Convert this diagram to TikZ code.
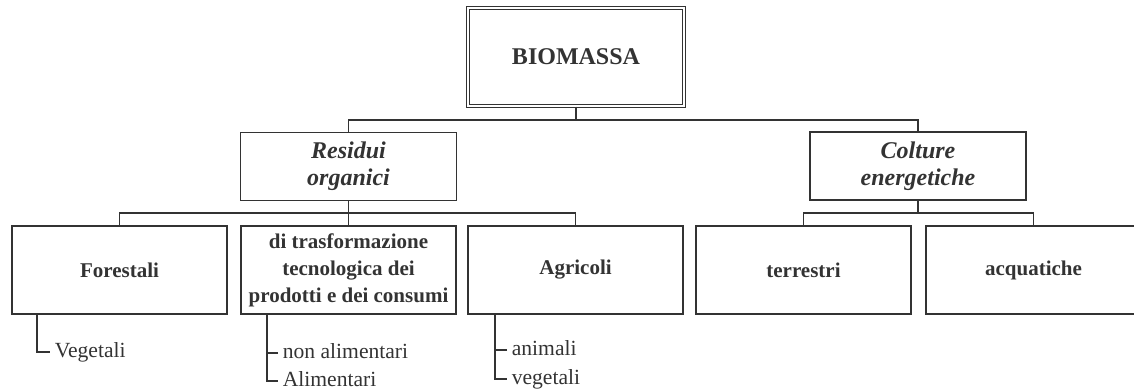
\documentclass[tikz,border=0pt]{standalone}
\usepackage{fontspec}
\setmainfont{Liberation Serif}
\usetikzlibrary{calc,positioning}

\begin{document}
\begin{tikzpicture}[x=0.5pt, y=-0.5pt, line width=.8pt, color=black!80,
   topbox/.style={draw, double, double distance=.7pt, line width=.6pt, minimum width=108pt, minimum height=49pt, font=\fontsize{12}{14}\selectfont\bfseries},
   midbox/.style={draw, align=center, minimum width=108pt, minimum height=34pt, inner sep=0pt, font=\fontsize{12}{13.5}\selectfont\bfseries\itshape},
   lowbox/.style={draw, align=center, minimum width=107.5pt, minimum height=44pt, inner sep=0pt, font=\fontsize{10.5}{13.5}\selectfont\bfseries},
   leaf/.style={anchor=west, inner xsep=2pt, inner ysep=0pt, text height=1.5ex, text depth=.25ex, font=\fontsize{10.8}{12}\selectfont}]
   \useasboundingbox (0,0) rectangle (1134,390);
   % boxes
   \node[topbox] (biomassa) at (576,57) {BIOMASSA};
   \node[midbox] (residui) at (348.5,166.5) {Residui\\organici};
   \node[midbox] (colture) at (918,166) {Colture\\energetiche};
   \node[lowbox] (forestali) at (119.5,270) {Forestali};
   \node[lowbox] (trasf) at (348.5,270) {di trasformazione\\tecnologica dei\\prodotti e dei consumi};
   \node[lowbox] (agricoli) at (575.5,270) {Agricoli};
   \node[lowbox] (terrestri) at (803.5,270) {terrestri};
   \node[lowbox] (acquatiche) at (1033.5,270) {acquatiche};
   % leaves
   \node[leaf] (vegetali) at (50,352) {Vegetali};
   \node[leaf] (nonalim) at (278,353) {non alimentari};
   \node[leaf] (alim) at (278,381) {Alimentari};
   \node[leaf] (animali) at (507,350) {animali};
   \node[leaf] (vegetali2) at (507,379) {vegetali};
   % connectors
   \coordinate (bus0) at (biomassa.south |- 0,120);
   \coordinate (bus1) at (residui.south |- 0,213);
   \coordinate (bus2) at (colture.south |- 0,213);
   \draw (biomassa.south) -- (bus0);
   \draw (residui.north) |- (bus0) -| (colture.north);
   \draw (residui.south) -- (trasf.north);
   \draw (forestali.north) |- (bus1) -| (agricoli.north);
   \draw (colture.south) -- (bus2);
   \draw (terrestri.north) |- (bus2) -| (acquatiche.north);
   \draw ($(forestali.south west)+(26,0)$) |- (vegetali.west);
   \draw ($(trasf.south west)+(27,0)$) |- (alim.west);
   \draw (nonalim.west) -- ++(-11,0);
   \draw ($(agricoli.south west)+(28,0)$) |- (vegetali2.west);
   \draw (animali.west) -- ++(-11,0);
\end{tikzpicture}
\end{document}
